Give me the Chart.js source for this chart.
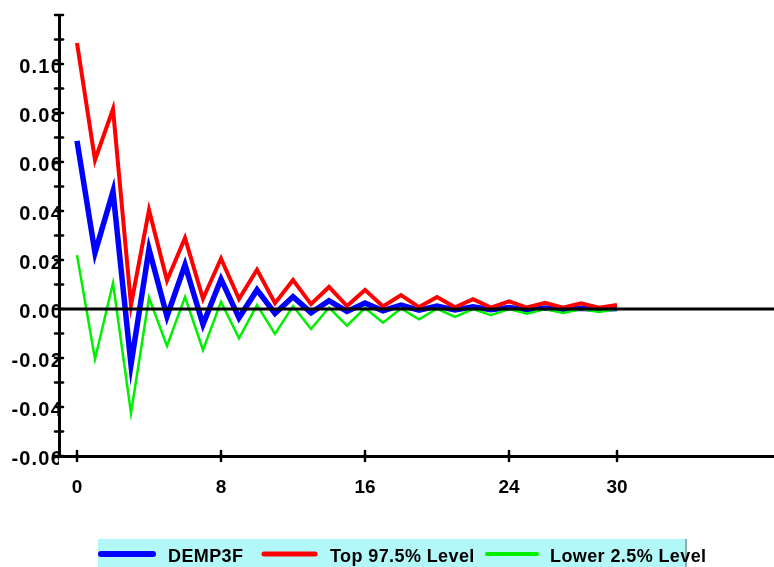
<!DOCTYPE html>
<html lang="en">
<head>
  <meta charset="UTF-8" />
  <title>DEMP3F</title>
  <script src="https://cdn.jsdelivr.net/npm/chart.js"></script>
  <style>
    html, body { margin: 0; padding: 0; background: #fff; }
    #wrap { width: 774px; height: 567px; }
  </style>
</head>
<body>
  <div id="wrap"><canvas id="irf" width="774" height="567"></canvas></div>

  <script>
    // lags 0..30
    var lags = [];
    for (var i = 0; i <= 30; i++) lags.push(i);

    var demp3f = [0.0686, 0.0229, 0.048, -0.0227, 0.0245, -0.003, 0.018, -0.0063, 0.0122, -0.0036,
                  0.0078, -0.0018, 0.005, -0.0015, 0.0034, -0.001, 0.0024, -0.0007, 0.0016, -0.0005,
                  0.0012, -0.0004, 0.0009, -0.0003, 0.0006, -0.0003, 0.0004, -0.0002, 0.0003, -0.0001, 0.0002];
    var top975 = [0.1086, 0.0608, 0.0816, 0.0016, 0.0404, 0.0116, 0.029, 0.0042, 0.0206, 0.0041,
                  0.016, 0.0024, 0.0118, 0.002, 0.009, 0.0012, 0.0078, 0.001, 0.0057, 0.0008,
                  0.0049, 0.0007, 0.004, 0.0006, 0.0031, 0.0006, 0.0025, 0.0005, 0.0023, 0.0005, 0.0016];
    var lower25 = [0.022, -0.0204, 0.0106, -0.0425, 0.0046, -0.0151, 0.0049, -0.0167, 0.0029, -0.012,
                   0.0016, -0.0102, 0.0012, -0.0082, 0.0006, -0.0068, 0.0004, -0.0056, 0.0002, -0.0042,
                   0.0001, -0.0032, 0.0, -0.0025, 0.0, -0.0019, 0.0, -0.0016, 0.0, -0.0012, 0.0];

    var xTicks = [0, 8, 16, 24, 30];
    var seriesNames = ['DEMP3F', 'Top 97.5% Level', 'Lower 2.5% Level'];
    var seriesColors = ['#0000ff', '#ff0000', '#00f000'];

    function pts(arr) {
      return arr.map(function (v, k) { return { x: lags[k], y: v }; });
    }

    var fontFam = '"Liberation Sans", Arial, sans-serif';

    // zero line, crossing tick marks, legend box
    var decor = {
      id: 'decor',
      afterLayout: function (chart) {
        // y labels in the reference are a bit wider spaced
        var ys = chart.scales.y;
        if (ys && !ys._spaced) {
          var orig = ys.drawLabels;
          ys.drawLabels = function (area) {
            var ctx = this.ctx;
            var old = ctx.letterSpacing;
            if ('letterSpacing' in ctx) ctx.letterSpacing = '1.2px';
            orig.call(this, area);
            if ('letterSpacing' in ctx) ctx.letterSpacing = old;
          };
          ys._spaced = true;
        }
      },
      afterDatasetsDraw: function (chart) {
        var ctx = chart.ctx, a = chart.chartArea;
        var ys = chart.scales.y;
        ctx.save();
        ctx.strokeStyle = '#000';
        ctx.lineWidth = 3;
        var y0 = ys.getPixelForValue(0);
        ctx.beginPath();
        ctx.moveTo(a.left, y0);
        ctx.lineTo(a.right, y0);
        ctx.stroke();
        ctx.restore();
      },
      afterDraw: function (chart) {
        var ctx = chart.ctx, a = chart.chartArea;
        var xs = chart.scales.x, ys = chart.scales.y;
        ctx.save();
        ctx.strokeStyle = '#000';
        ctx.lineCap = 'round';
        ctx.lineWidth = 2.5;
        ys.ticks.forEach(function (t) {
          var py = ys.getPixelForValue(t.value);
          ctx.beginPath();
          ctx.moveTo(a.left - 4, py);
          ctx.lineTo(a.left + 4, py);
          ctx.stroke();
        });
        xTicks.forEach(function (v) {
          var px = xs.getPixelForValue(v);
          ctx.beginPath();
          ctx.moveTo(px, a.bottom - 5);
          ctx.lineTo(px, a.bottom + 5);
          ctx.stroke();
        });

        // legend
        ctx.fillStyle = '#b3f8f8';
        ctx.fillRect(98, 539, 588, 28);
        ctx.strokeStyle = '#6a9a9a';
        ctx.lineWidth = 1.5;
        ctx.lineCap = 'butt';
        ctx.beginPath();
        ctx.moveTo(686, 539);
        ctx.lineTo(686, 567);
        ctx.stroke();

        var lineX = [[101, 153], [264, 315], [487, 537]];
        var textX = [168, 330, 550];
        var widths = [6, 5, 4];
        ctx.lineCap = 'round';
        ctx.font = 'bold 18px ' + fontFam;
        ctx.textBaseline = 'alphabetic';
        if ('letterSpacing' in ctx) ctx.letterSpacing = '0.4px';
        chart.data.datasets.forEach(function (ds, k) {
          ctx.strokeStyle = ds.borderColor;
          ctx.lineWidth = widths[k];
          ctx.beginPath();
          ctx.moveTo(lineX[k][0], 554);
          ctx.lineTo(lineX[k][1], 554);
          ctx.stroke();
          ctx.fillStyle = '#000';
          ctx.fillText(ds.label, textX[k], 562);
        });
        ctx.restore();
      }
    };

    var chart = new Chart(document.getElementById('irf'), {
      type: 'line',
      data: {
        datasets: [
          { label: seriesNames[0], data: pts(demp3f), borderColor: seriesColors[0], borderWidth: 5.5, order: 3 },
          { label: seriesNames[1], data: pts(top975), borderColor: seriesColors[1], borderWidth: 4, order: 2 },
          { label: seriesNames[2], data: pts(lower25), borderColor: seriesColors[2], borderWidth: 2.5, order: 1 }
        ]
      },
      options: {
        responsive: false,
        animation: false,
        events: [],
        layout: { padding: { top: 15, left: 0, right: 0, bottom: 0 } },
        elements: {
          line: { tension: 0, borderJoinStyle: 'miter', fill: false },
          point: { radius: 0 }
        },
        plugins: { legend: { display: false }, tooltip: { enabled: false } },
        scales: {
          x: {
            type: 'linear',
            min: -1,
            max: 38.72,
            afterFit: function (s) { s.height = 111; },
            afterBuildTicks: function (s) { s.ticks = xTicks.map(function (v) { return { value: v }; }); },
            grid: { display: false, drawTicks: false },
            border: { display: true, color: '#000', width: 3 },
            ticks: {
              padding: 20,
              color: '#000',
              maxRotation: 0,
              autoSkip: false,
              font: { family: fontFam, size: 19, weight: 'bold' },
              callback: function (v) { return String(v); }
            }
          },
          y: {
            min: -0.06,
            max: 0.12,
            afterFit: function (s) { s.width = 59; },
            grid: { display: false, drawTicks: false },
            border: { display: true, color: '#000', width: 3 },
            ticks: {
              stepSize: 0.01,
              padding: -4,
              labelOffset: 3,
              color: '#000',
              autoSkip: false,
              font: { family: fontFam, size: 20, weight: 'bold' },
              callback: function (v) {
                var n = Math.round(v * 100);
                if (n % 2 !== 0 || n > 10) return '';
                return (n / 100).toFixed(2);
              }
            }
          }
        }
      },
      plugins: [decor]
    });
  </script>
</body>
</html>
